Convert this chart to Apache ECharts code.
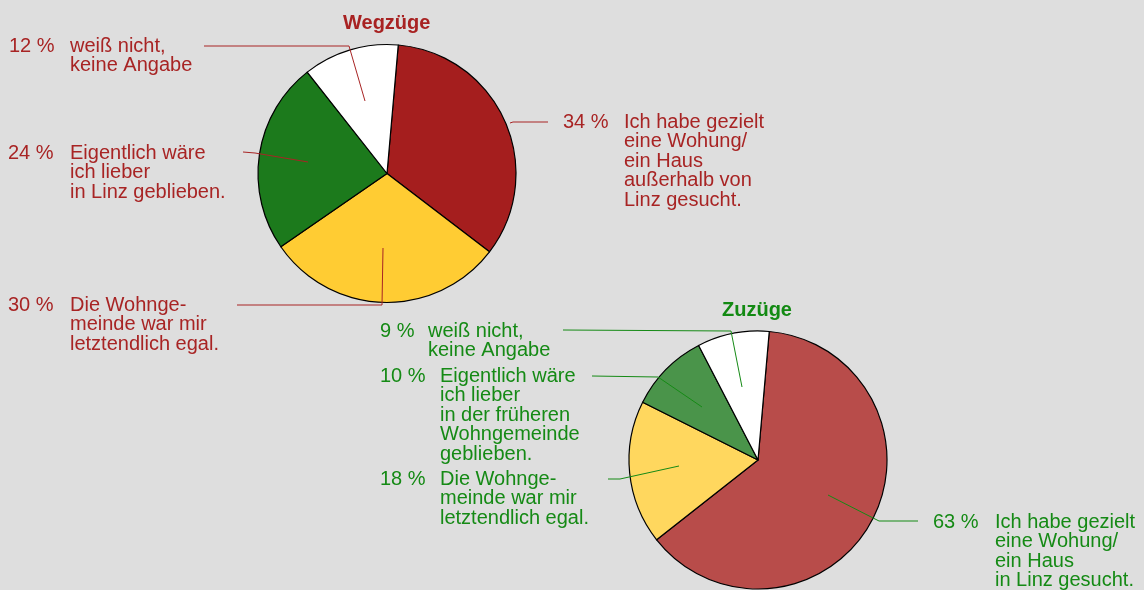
<!DOCTYPE html>
<html>
<head>
<meta charset="UTF-8">
<title>Wegzüge / Zuzüge</title>
<script type="text/javascript" src="https://cdn.jsdelivr.net/npm/echarts@6/dist/echarts.min.js"></script>
</head>
<body style="margin:0;background:#dedede">
	<div id="show" style="width:1144px;height:590px"></div>
	<script type="text/javascript">
		// Wegzüge (top pie), clockwise from 12 o'clock
		var wegPct=['34 %','30 %','24 %','12 %'];
		var wegValues=[34,30,24,12];
		var wegTexts=[
			['Ich habe gezielt','eine Wohung/','ein Haus','außerhalb von','Linz gesucht.'],
			['Die Wohnge-','meinde war mir','letztendlich egal.'],
			['Eigentlich wäre','ich lieber','in Linz geblieben.'],
			['weiß nicht,','keine Angabe']
		];
		// Zuzüge (bottom pie)
		var zuPct=['63 %','18 %','10 %','9 %'];
		var zuValues=[63,18,10,9];
		var zuTexts=[
			['Ich habe gezielt','eine Wohung/','ein Haus','in Linz gesucht.'],
			['Die Wohnge-','meinde war mir','letztendlich egal.'],
			['Eigentlich wäre','ich lieber','in der früheren','Wohngemeinde','geblieben.'],
			['weiß nicht,','keine Angabe']
		];

		var wegColors=['#a51e1e','#ffcc33','#1c7a1c','#ffffff'];
		var zuColors=['#b84c4a','#ffd75e','#4a944a','#ffffff'];
		var redText='#a82424';
		var greenText='#158a15';

		// label layout: x, y of first line centre, width of the % column, leader line
		var wegLayout=[
			{x:563,y:122,w:61,line:[[548,122],[513,122],[510,123]]},
			{x:8,y:305,w:62,line:[[237,305],[382,305],[383,248]]},
			{x:8,y:153,w:62,line:[[243,152],[255,153],[308,162]]},
			{x:9,y:46,w:61,line:[[204,46],[349,46],[365,101]]}
		];
		var zuLayout=[
			{x:933,y:522,w:62,line:[[918,521],[879,521],[828,495]]},
			{x:380,y:479,w:60,line:[[608,479],[620,479],[679,466]]},
			{x:380,y:376,w:60,line:[[592,376],[658,377],[702,407]]},
			{x:380,y:331,w:48,line:[[563,330],[731,331],[742,387]]}
		];

		function buildData(values,pct,texts,colors){
			var d=[];
			for(var i=0;i<values.length;i++){
				var lines=texts[i];
				var s='{p'+i+'|'+pct[i]+'}{t|'+lines[0]+'}';
				for(var j=1;j<lines.length;j++){
					s+='\n{p'+i+'| }{t|'+lines[j]+'}';
				}
				d.push({value:values[i],name:lines.join(' '),itemStyle:{color:colors[i]},
					label:{formatter:s}});
			}
			return d;
		}
		function richFor(layout,color){
			var r={t:{fontSize:20,lineHeight:19.5,color:color,fontFamily:'Liberation Sans'}};
			for(var i=0;i<layout.length;i++){
				r['p'+i]={fontSize:20,lineHeight:19.5,color:color,width:layout[i].w,fontFamily:'Liberation Sans'};
			}
			return r;
		}
		function pieSeries(data,center,layout,color){
			return {
				type:'pie',
				center:center,
				radius:129,
				startAngle:85,
				clockwise:true,
				silent:true,
				animation:false,
				data:data,
				itemStyle:{borderColor:'#000',borderWidth:1.2},
				label:{show:true,position:'outside',overflow:'none',rich:richFor(layout,color)},
				labelLine:{show:false},
				labelLayout:function(p){
					var l=layout[p.dataIndex];
					return {x:l.x,y:l.y-9.75,align:'left',verticalAlign:'top'};
				}
			};
		}
		// leader lines, from the label into the slice
		function leaders(layout,color){
			var g=[];
			for(var i=0;i<layout.length;i++){
				g.push({type:'polyline',z:100,silent:true,
					shape:{points:layout[i].line},
					style:{stroke:color,lineWidth:1,fill:null}});
			}
			return g;
		}

		var myCharts=echarts.init(document.getElementById('show'));
		myCharts.setOption({
			backgroundColor:'#dedede',
			title:[
				{text:'Wegzüge',left:343,top:13,padding:0,
					textStyle:{fontSize:20,fontWeight:'bold',color:'#a82222',fontFamily:'Liberation Sans'}},
				{text:'Zuzüge',left:722,top:300,padding:0,
					textStyle:{fontSize:20,fontWeight:'bold',color:'#138a13',fontFamily:'Liberation Sans'}}
			],
			graphic:leaders(wegLayout,redText).concat(leaders(zuLayout,greenText)),
			series:[
				pieSeries(buildData(wegValues,wegPct,wegTexts,wegColors),[387,173.5],wegLayout,redText),
				pieSeries(buildData(zuValues,zuPct,zuTexts,zuColors),[758,460],zuLayout,greenText)
			]
		});
	</script>
</body>
</html>
